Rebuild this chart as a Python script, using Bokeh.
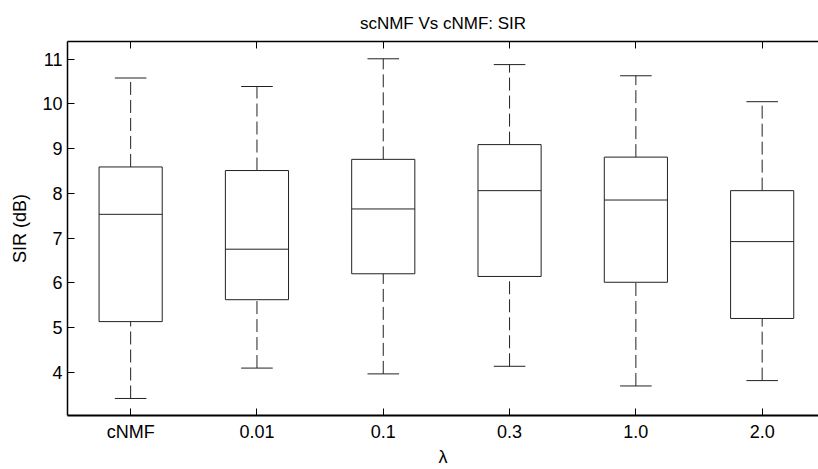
from bokeh.plotting import figure
from bokeh.models import Range1d, FixedTicker, LinearAxis, ColumnDataSource
from bokeh.embed import file_html
from bokeh.resources import INLINE

categories = ["cNMF", "0.01", "0.1", "0.3", "1.0", "2.0"]
lower_whisker = [3.41, 4.09, 3.96, 4.13, 3.69, 3.81]
q1 = [5.13, 5.62, 6.20, 6.14, 6.01, 5.20]
median = [7.53, 6.75, 7.65, 8.06, 7.85, 6.92]
q3 = [8.59, 8.51, 8.76, 9.09, 8.81, 8.06]
upper_whisker = [10.58, 10.39, 11.01, 10.88, 10.63, 10.05]
y_ticks = [4, 5, 6, 7, 8, 9, 10, 11]

FONT = "Liberation Sans"
xs = list(range(1, len(categories) + 1))
box_half = 0.25
cap_half = 0.125

src = ColumnDataSource(dict(
    x=xs,
    left=[x - box_half for x in xs],
    right=[x + box_half for x in xs],
    cl=[x - cap_half for x in xs],
    cr=[x + cap_half for x in xs],
    lo=lower_whisker, q1=q1, med=median, q3=q3, hi=upper_whisker,
))

p = figure(width=818, height=469, output_backend="svg", toolbar_location=None,
           x_range=Range1d(0.5, 6.446), y_range=Range1d(3.029, 11.397),
           min_border_left=67, min_border_right=0, min_border_top=41, min_border_bottom=49,
           title="scNMF Vs cNMF: SIR", x_axis_label="λ", y_axis_label="SIR (dB)")
p.outline_line_color = None
p.background_fill_color = "white"
p.border_fill_color = "white"
p.xgrid.visible = False
p.ygrid.visible = False

p.title.align = "center"
p.title.text_font = FONT
p.title.text_font_size = "17px"
p.title.text_font_style = "normal"
p.title.text_color = "black"
p.title.offset = 0
p.title.standoff = 17

# axes
xa = p.xaxis[0]
xa.ticker = FixedTicker(ticks=xs)
xa.major_label_overrides = {x: c for x, c in zip(xs, categories)}
ya = p.yaxis[0]
ya.ticker = FixedTicker(ticks=y_ticks)
for ax in (xa, ya):
    ax.major_tick_in = 7
    ax.major_tick_out = 0
    ax.minor_tick_in = 0
    ax.minor_tick_out = 0
    ax.major_tick_line_color = "black"
    ax.axis_line_color = "black"
    ax.major_label_text_font = FONT
    ax.major_label_text_font_size = "18px"
    ax.major_label_text_color = "black"
    ax.axis_label_text_font = FONT
    ax.axis_label_text_font_size = "18px"
    ax.axis_label_text_font_style = "normal"
    ax.axis_label_text_color = "black"
xa.axis_line_width = 2
ya.axis_line_width = 1.5
xa.major_label_standoff = 6
xa.axis_label_standoff = 2
ya.major_label_standoff = 5
ya.axis_label_standoff = 9

top = LinearAxis(ticker=FixedTicker(ticks=xs), major_label_text_font_size="0px",
                 major_tick_in=7, major_tick_out=0, minor_tick_in=0, minor_tick_out=0,
                 axis_line_color="black", axis_line_width=1.5, major_tick_line_color="black",
                 major_label_standoff=0)
top.major_label_text_alpha = 0
p.add_layout(top, "above")

col = "#222222"
# whiskers (dashed)
p.segment(x0="x", y0="q3", x1="x", y1="hi", source=src, line_color=col, line_width=1, line_dash="13 5")
p.segment(x0="x", y0="lo", x1="x", y1="q1", source=src, line_color=col, line_width=1, line_dash="13 5")
# caps
p.segment(x0="cl", y0="hi", x1="cr", y1="hi", source=src, line_color=col, line_width=1)
p.segment(x0="cl", y0="lo", x1="cr", y1="lo", source=src, line_color=col, line_width=1)
# boxes
p.quad(left="left", right="right", bottom="q1", top="q3", source=src,
       fill_color="white", line_color=col, line_width=1)
# medians
p.segment(x0="left", y0="med", x1="right", y1="med", source=src, line_color=col, line_width=1)

open("out.html", "w").write(file_html(p, INLINE))
